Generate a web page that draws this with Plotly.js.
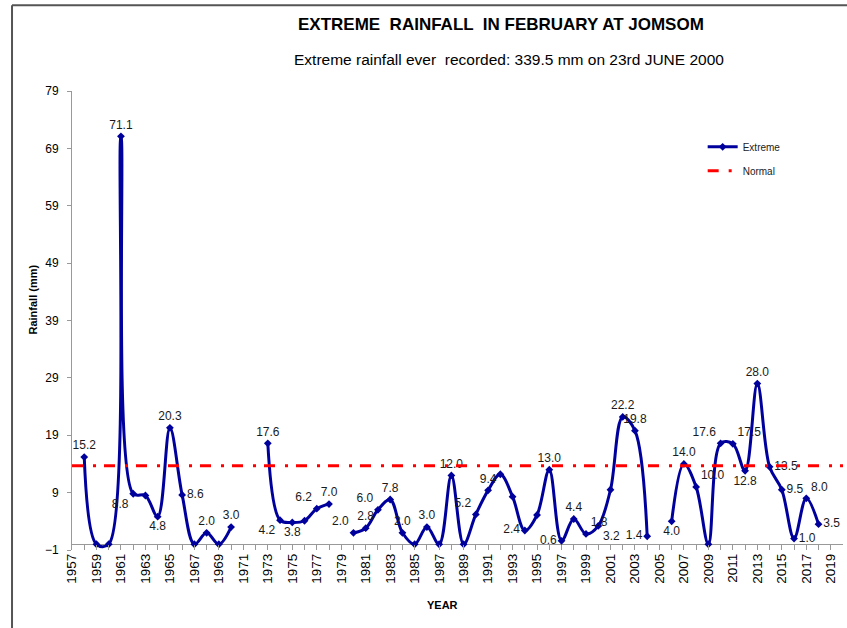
<!DOCTYPE html>
<html>
<head>
<meta charset="utf-8">
<script src="https://cdn.plot.ly/plotly-3.0.1.min.js"></script>
<style>
  html, body { margin: 0; padding: 0; background: #fff; }
  #chart { width: 847px; height: 628px; }
</style>
</head>
<body>
<div id="chart"></div>
<script>
// ---- data ----
var years = [1958,1959,1960,1961,1962,1963,1964,1965,1966,1967,1968,1969,1970,1971,1972,
             1973,1974,1975,1976,1977,1978,1979,1980,1981,1982,1983,1984,1985,1986,1987,
             1988,1989,1990,1991,1992,1993,1994,1995,1996,1997,1998,1999,2000,2001,2002,
             2003,2004,2005,2006,2007,2008,2009,2010,2011,2012,2013,2014,2015,2016,2017,2018];
var extreme = [15.2,0,0,71.1,8.8,8.5,4.8,20.3,8.6,0,2.0,0,3.0,null,null,
               17.6,4.2,3.8,4.1,6.2,7.0,null,2.0,2.8,6.0,7.8,2.0,0,3.0,0,
               12.0,0,5.2,9.4,12.2,8.3,2.4,5.1,13.0,0.6,4.4,1.8,3.2,9.5,22.2,
               19.8,1.4,null,4.0,14.0,10.0,0,17.6,17.5,12.8,28.0,13.5,9.5,1.0,8.0,3.5];
var labels = ['15.2','','','71.1','8.8','','4.8','20.3','8.6','','2.0','','3.0','','',
              '17.6','4.2','3.8','','6.2','7.0','','2.0','2.8','6.0','7.8','2.0','','3.0','',
              '12.0','','5.2','9.4','','','2.4','','13.0','0.6','4.4','1.8','3.2','','22.2',
              '19.8','1.4','','4.0','14.0','10.0','','17.6','17.5','12.8','28.0','13.5','9.5','1.0','8.0','3.5'];
var normalYears = [1957, 2020];
var normalValue = 13.7;
var tickYears = [];
for (var t = 1957; t <= 2020; t++) tickYears.push(t);
var tickText = tickYears.map(function (y) { return (y % 2 === 1) ? String(y) : ''; });
var yTicks = [-1, 9, 19, 29, 39, 49, 59, 69, 79];

// ---- label placement (style only) ----
var labelPos = ['top center','top center','top center','top center','bottom left','top center','bottom center','top center','middle right','top center','top center','top center','top center','top center','top center',
  'top center','bottom left','bottom center','top center','top left','top center','top center','top left','top center','top left','top center','top center','top center','top center','top center',
  'top center','top center','top left','top center','top center','top center','middle left','top center','top center','middle left','top center','top right','bottom right','top center','top center',
  'top center','middle left','top center','bottom center','top center','top right','top center','top left','top right','bottom center','top center','middle right','middle right','middle right','top right','middle right'];

var traces = [
  {
    x: years, y: extreme, name: 'Extreme', type: 'scatter',
    mode: 'lines+markers+text',
    text: labels, textposition: labelPos,
    textfont: { family: 'Liberation Sans, Arial, sans-serif', size: 12, color: '#1a1a1a' },
    line: { color: '#00009c', width: 3, shape: 'spline', smoothing: 1 },
    marker: { symbol: 'diamond', size: 6, color: '#00009c' },
    connectgaps: false, cliponaxis: false,
    legendgroup: 'a', hoverinfo: 'x+y'
  },
  {
    x: normalYears, y: [normalValue, normalValue], name: 'Normal', type: 'scatter',
    mode: 'lines',
    line: { color: '#ff0000', width: 3, dash: '11px,10px,3px,8px' },
    legendgroup: 'b', hoverinfo: 'y'
  }
];

var layout = {
  width: 847, height: 628,
  margin: { l: 72, r: 4, t: 91, b: 78 },
  paper_bgcolor: '#ffffff', plot_bgcolor: '#ffffff',
  font: { family: 'Liberation Sans, Arial, sans-serif', size: 11, color: '#000' },
  showlegend: true,
  legend: {
    x: 0.818, y: 0.91, xanchor: 'left', yanchor: 'top',
    bgcolor: 'rgba(0,0,0,0)', tracegroupgap: 5,
    font: { family: 'Liberation Sans, Arial, sans-serif', size: 10, color: '#222' }
  },
  xaxis: {
    type: 'linear', range: [1957, 2020],
    tickmode: 'array', tickvals: tickYears, ticktext: tickText,
    tickangle: -90, ticks: 'inside', ticklen: 5, tickcolor: '#999',
    showline: false, showgrid: false, zeroline: false,
    tickfont: { family: 'Liberation Sans, Arial, sans-serif', size: 13.5, color: '#000' }
  },
  yaxis: {
    range: [-1, 79], tickmode: 'array', tickvals: yTicks,
    ticks: 'outside', ticklen: 4, tickcolor: '#999',
    showline: true, linecolor: '#999', linewidth: 1,
    showgrid: false, zeroline: true, zerolinecolor: '#999', zerolinewidth: 1,
    ticklabelstandoff: 6,
    tickfont: { family: 'Liberation Sans, Arial, sans-serif', size: 12, color: '#000' }
  },
  annotations: [
    { xref: 'paper', yref: 'paper', x: 0.557, y: 1.144, xanchor: 'center', yanchor: 'middle',
      text: '<b>EXTREME  RAINFALL  IN FEBRUARY AT JOMSOM</b>', showarrow: false,
      font: { size: 17, color: '#000' } },
    { xref: 'paper', yref: 'paper', x: 0.567, y: 1.068, xanchor: 'center', yanchor: 'middle',
      text: 'Extreme rainfall ever  recorded: 339.5 mm on 23rd JUNE 2000', showarrow: false,
      font: { size: 15.5, color: '#000' } },
    { xref: 'paper', yref: 'paper', x: -0.051, y: 0.545, xanchor: 'center', yanchor: 'middle',
      text: '<b>Rainfall (mm)</b>', textangle: -90, showarrow: false,
      font: { size: 11, color: '#000' } },
    { xref: 'paper', yref: 'paper', x: 0.481, y: -0.12, xanchor: 'center', yanchor: 'middle',
      text: '<b>YEAR</b>', showarrow: false,
      font: { size: 11, color: '#000' } }
  ],
  shapes: [
    { type: 'line', xref: 'paper', yref: 'paper', x0: -0.0778, x1: -0.0778, y0: -0.2, y1: 1.187,
      line: { color: '#555', width: 2 } },
    { type: 'line', xref: 'paper', yref: 'paper', x0: -0.0778, x1: 1.01, y0: 1.187, y1: 1.187,
      line: { color: '#555', width: 2 } }
  ]
};

Plotly.newPlot('chart', traces, layout, { displayModeBar: false, staticPlot: true });
</script>
</body>
</html>
